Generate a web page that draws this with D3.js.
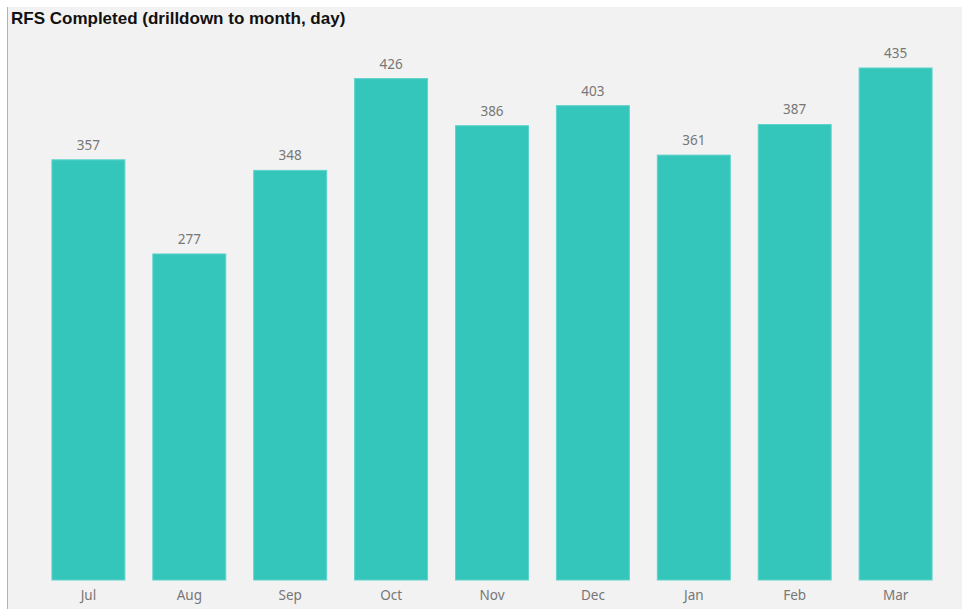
<!DOCTYPE html>
<html>
<head>
<meta charset="utf-8">
<script src="https://cdn.jsdelivr.net/npm/d3@7"></script>
<style>
  html, body { margin: 0; padding: 0; background: #ffffff; }
  svg { display: block; }
</style>
</head>
<body>
<svg id="chart" width="964" height="609"></svg>
<script>
// Monthly RFS completions
const months = ["Jul", "Aug", "Sep", "Oct", "Nov", "Dec", "Jan", "Feb", "Mar"];
const completed = [357, 277, 348, 426, 386, 403, 361, 387, 435];
const chartTitle = "RFS Completed (drilldown to month, day)";

const svg = d3.select("#chart");
const W = 964, H = 609;

// Panel background and left rule
svg.append("rect").attr("x", 8).attr("y", 7).attr("width", W - 10).attr("height", H - 7).attr("fill", "#f2f2f2");
svg.append("line").attr("x1", 7.5).attr("x2", 7.5).attr("y1", 7).attr("y2", H).attr("stroke", "#b3b3b3").attr("stroke-width", 1);

svg.append("text")
  .attr("x", 11).attr("y", 24)
  .attr("font-family", "'Liberation Sans', Arial, sans-serif")
  .attr("font-weight", "bold").attr("font-size", 17)
  .attr("fill", "#111")
  .text(chartTitle);

const data = months.map((m, i) => ({ month: m, value: completed[i] }));

const x = d3.scaleBand().domain(months).range([38, 946]).paddingInner(0.277).paddingOuter(0.138);
const y = d3.scaleLinear().domain([0, d3.max(completed)]).range([580, 68]);

svg.append("g").selectAll("rect").data(data).join("rect")
  .attr("x", d => x(d.month))
  .attr("y", d => y(d.value))
  .attr("width", x.bandwidth())
  .attr("height", d => y(0) - y(d.value))
  .attr("fill", "#34c6bb")
  .attr("stroke", "#5fd3ca").attr("stroke-width", 1);

svg.append("g").selectAll("text").data(data).join("text")
  .attr("x", d => x(d.month) + x.bandwidth() / 2)
  .attr("y", d => y(d.value) - 10)
  .attr("text-anchor", "middle")
  .attr("font-family", "'Noto Sans', 'Open Sans', sans-serif")
  .attr("font-size", 13.5).attr("fill", "#777")
  .text(d => d.value);

const xAxis = svg.append("g").attr("transform", "translate(0,580)")
  .call(d3.axisBottom(x).tickSize(0).tickPadding(10));
xAxis.select(".domain").remove();
xAxis.selectAll("text")
  .attr("font-family", "'Noto Sans', 'Open Sans', sans-serif")
  .attr("font-size", 13.5).attr("fill", "#777");
</script>
</body>
</html>
